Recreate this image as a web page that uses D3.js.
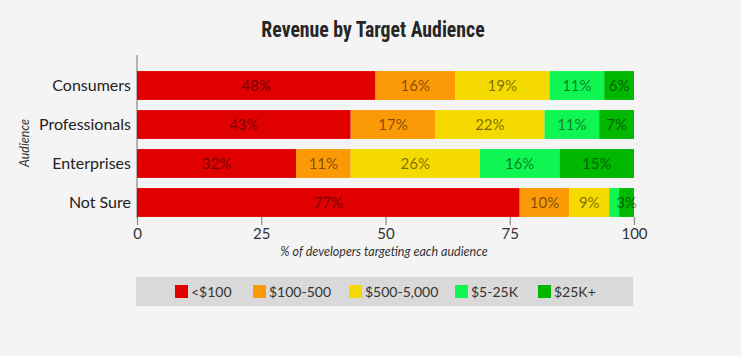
<!DOCTYPE html>
<html><head><meta charset="utf-8">
<script src="https://cdn.jsdelivr.net/npm/d3@7"></script>
<style>
html,body{margin:0;padding:0;background:#f4f4f4;}
svg{display:block;}
</style></head>
<body>
<svg id="chart" width="741" height="356"></svg>
<script>
const categories = ["Consumers", "Professionals", "Enterprises", "Not Sure"];
const seriesNames = ["<$100", "$100-500", "$500-5,000", "$5-25K", "$25K+"];
const seriesColors = ["#e10000", "#fb9a06", "#f4da00", "#0ff552", "#00b800"];
const under100 = [48, 43, 32, 77];
const from100to500 = [16, 17, 11, 10];
const from500to5000 = [19, 22, 26, 8];
const from5to25k = [11, 11, 16, 2];
const over25k = [6, 7, 15, 3];
const segmentLabels = [
  ["48%", "16%", "19%", "11%", "6%"],
  ["43%", "17%", "22%", "11%", "7%"],
  ["32%", "11%", "26%", "16%", "15%"],
  ["77%", "10%", "9%", "", "3%"]
];
const xTicks = [0, 25, 50, 75, 100];
const titleText = "Revenue by Target Audience";
const xTitle = "% of developers targeting each audience";
const yTitle = "Audience";

const seriesValues = [under100, from100to500, from500to5000, from5to25k, over25k];
const rows = categories.map((c, i) => {
  const r = {category: c};
  seriesNames.forEach((s, j) => r[s] = seriesValues[j][i]);
  return r;
});
const stacked = d3.stack().keys(seriesNames)(rows);

const svg = d3.select("#chart");
const font = "Lato, 'Open Sans', sans-serif";
const x = d3.scaleLinear().domain([0, 100]).range([137, 634]);
const y = d3.scaleBand().domain(categories).range([66, 222]).paddingInner(0.26).paddingOuter(0.13);

svg.append("text").attr("x", 373).attr("y", 37).attr("text-anchor", "middle")
  .attr("font-family", "'Liberation Sans Narrow', 'Roboto Condensed', sans-serif")
  .attr("font-weight", "bold").attr("font-size", 22).attr("fill", "#262626")
  .attr("transform", "translate(373,37) scale(0.9,1) translate(-373,-37)")
  .text(titleText);

// vertical axis line
svg.append("line").attr("x1", 137).attr("x2", 137).attr("y1", 55).attr("y2", 218)
  .attr("stroke", "#888").attr("stroke-width", 1.2);

const g = svg.append("g");
stacked.forEach((layer, j) => {
  g.selectAll(null).data(layer).enter().append("rect")
    .attr("x", d => x(d[0]))
    .attr("width", d => x(d[1]) - x(d[0]))
    .attr("y", d => y(d.data.category))
    .attr("height", y.bandwidth())
    .attr("fill", seriesColors[j]);
  g.selectAll(null).data(layer).enter().append("text")
    .attr("x", d => (x(d[0]) + x(d[1])) / 2)
    .attr("y", d => y(d.data.category) + y.bandwidth() / 2)
    .attr("dy", "0.36em").attr("text-anchor", "middle")
    .attr("font-family", font).attr("font-size", 15)
    .attr("fill", "#000").attr("fill-opacity", 0.5)
    .text((d, i) => segmentLabels[i][j]);
});

// category labels
svg.selectAll(null).data(categories).enter().append("text")
  .attr("x", 131).attr("y", d => y(d) + y.bandwidth() / 2).attr("dy", "0.36em")
  .attr("text-anchor", "end").attr("font-family", font).attr("font-size", 16)
  .attr("fill", "#222").text(d => d);

svg.append("text").attr("transform", "translate(29,143) rotate(-90)")
  .attr("text-anchor", "middle").attr("font-family", font).attr("font-style", "italic")
  .attr("font-size", 12.5).attr("fill", "#333").text(yTitle);

// x axis
const xAxis = d3.axisBottom(x).tickValues(xTicks).tickSize(8).tickPadding(3);
const ax = svg.append("g").attr("transform", "translate(0,217)").call(xAxis);
ax.select(".domain").remove();
ax.selectAll(".tick line").attr("stroke", "#888").attr("stroke-width", 1.2);
ax.selectAll(".tick text").attr("font-family", font).attr("font-size", 15).attr("fill", "#333");

svg.append("text").attr("x", 384).attr("y", 256).attr("text-anchor", "middle")
  .attr("font-family", font).attr("font-style", "italic").attr("font-size", 12.5)
  .attr("fill", "#333").text(xTitle);

// legend
svg.append("rect").attr("x", 136).attr("y", 277).attr("width", 497).attr("height", 29).attr("fill", "#d9d9d9");
const legendX = [175, 253, 349, 455, 538];
const lg = svg.selectAll(null).data(seriesNames).enter().append("g")
  .attr("transform", (d, i) => `translate(${legendX[i]},285)`);
lg.append("rect").attr("width", 13).attr("height", 13).attr("fill", (d, i) => seriesColors[i]);
lg.append("text").attr("x", 16).attr("y", 6.5).attr("dy", "0.36em")
  .attr("font-family", font).attr("font-size", 14).attr("fill", "#333").text(d => d);
</script>
</body></html>
